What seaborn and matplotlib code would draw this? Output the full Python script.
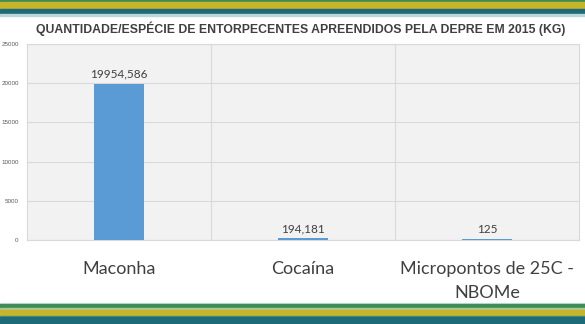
import matplotlib
matplotlib.use("Agg")
import matplotlib.pyplot as plt
import seaborn as sns
import pandas as pd
from matplotlib.patches import Rectangle

categories = ["Maconha", "Cocaína", "Micropontos de 25C -\nNBOMe"]
values = [19954.586, 194.181, 125]
value_labels = ["19954,586", "194,181", "125"]
yticks = [0, 5000, 10000, 15000, 20000, 25000]
title = "QUANTIDADE/ESPÉCIE DE ENTORPECENTES APREENDIDOS PELA DEPRE EM 2015 (KG)"

sns.set_style("white")
plt.rcParams['font.family'] = ['Liberation Sans', 'DejaVu Sans']

W, H = 585, 324
fig = plt.figure(figsize=(W / 100, H / 100), dpi=100)
fig.patch.set_facecolor("white")

def band(y0, y1, color):
    fig.patches.append(Rectangle((0, 1 - y1 / H), 1, (y1 - y0) / H,
                                 transform=fig.transFigure, color=color, zorder=0))

# top stripes
band(0, 1.5, "#3e8a55")
band(1.5, 8.5, "#c6b42a")
band(8.5, 14.5, "#1d6b78")
band(14.5, 15.5, "#bcd6dc")
# bottom stripes
band(302.5, 304, "#d6e6e0")
band(304, 308, "#3f8c54")
band(308, 309.5, "#a9c79a")
band(309.5, 316, "#c6b42a")
band(316, 317, "#4f8e80")
band(317, 324, "#1d6b78")

left, right, top, bottom = 27, 579, 44, 240
ax = fig.add_axes([left / W, 1 - bottom / H, (right - left) / W, (bottom - top) / H])
ax.set_facecolor("#f2f2f2")

df = pd.DataFrame({"cat": categories, "val": values})
sns.barplot(data=df, x="cat", y="val", color="#5b9bd5", width=0.27, saturation=1,
            linewidth=0, edgecolor="none", ax=ax, zorder=3)

ax.set_ylim(0, 25000)
ax.set_xlim(-0.5, 2.5)
ax.set_yticks(yticks)
ax.set_yticklabels([str(t) for t in yticks], fontsize=4.5, color="#595959")
ax.yaxis.grid(True, color="#d9d9d9", linewidth=0.8, zorder=0)
for xv in [0.5, 1.5]:
    ax.axvline(xv, color="#d9d9d9", linewidth=0.8, zorder=0)
ax.set_axisbelow(True)
ax.tick_params(axis="both", length=0, pad=6)
ax.set_xlabel("")
ax.set_ylabel("")
ax.set_xticks(range(len(categories)))
ax.set_xticklabels(categories, fontsize=13, color="#404040",
                   family=["Lato", "DejaVu Sans"], linespacing=1.6)
ax.tick_params(axis="x", pad=15)
for s in ax.spines.values():
    s.set_color("#d9d9d9")
    s.set_linewidth(0.8)

for i, (v, lab) in enumerate(zip(values, value_labels)):
    ax.annotate(lab, (i, v), xytext=(0, 3), textcoords="offset points",
                ha="center", va="bottom", fontsize=8.5, color="#404040",
                family=["Lato", "DejaVu Sans"])

fig.text(301 / W, 1 - 28.3 / H, title, ha="center", va="center", fontsize=8.8,
         fontweight="bold", color="#404040")

fig.savefig("out.png", dpi=100)
